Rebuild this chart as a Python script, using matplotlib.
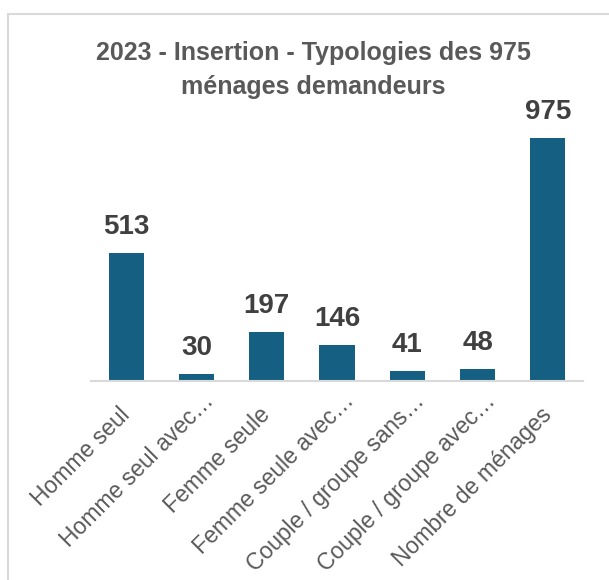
import matplotlib
matplotlib.use("Agg")
import matplotlib.pyplot as plt
import matplotlib.transforms as mtransforms
from matplotlib.patches import Rectangle

categories = ["Homme seul", "Homme seul avec…", "Femme seule", "Femme seule avec…",
              "Couple / groupe sans…", "Couple / groupe avec…", "Nombre de ménages"]
values = [513, 30, 197, 146, 41, 48, 975]
title = "2023 - Insertion - Typologies des 975\nménages demandeurs"

plt.rcParams['font.family'] = ['Liberation Sans', 'DejaVu Sans']

W, H = 609, 580
fig = plt.figure(figsize=(W / 100, H / 100), dpi=100)

# chart border (only top and left visible)
fig.patches.append(Rectangle((8 / W, -0.1), 1.2, 1 - 14 / H + 0.1, transform=fig.transFigure,
                             fill=False, edgecolor="#d9d9d9", linewidth=1.5))

ax = fig.add_axes([91 / W, 1 - 381 / H, (583 - 91) / W, (381 - 100) / H])
x = list(range(len(categories)))
ax.bar(x, values, width=0.5, color="#156082")
ax.set_xlim(-0.5, len(categories) - 0.5)
ax.set_ylim(0, 975 * 281 / 243)

for xi, v in zip(x, values):
    ax.annotate(str(v), (xi, v), xytext=(0, 13), textcoords="offset pixels",
                ha="center", va="bottom", fontsize=20, fontweight="bold", color="#404040")

for s in ["top", "left", "right"]:
    ax.spines[s].set_visible(False)
ax.spines["bottom"].set_color("#d9d9d9")
ax.spines["bottom"].set_linewidth(1.5)
ax.set_yticks([])
ax.set_xticks(x)
ax.set_xticklabels(categories, rotation=45, ha="right", va="center", rotation_mode="anchor",
                   fontsize=16.5, color="#595959")
ax.tick_params(axis="x", length=0, pad=22)

# truncated labels sit slightly further along their direction, as in the reference
for lbl in ax.get_xticklabels():
    if lbl.get_text().endswith("…"):
        off = mtransforms.ScaledTranslation(0.14, 0.14, fig.dpi_scale_trans)
        lbl.set_transform(lbl.get_transform() + off)

fig.text(313 / W, 1 - 70 / H, title, ha="center", va="center", fontsize=18, fontweight="bold",
         color="#595959", linespacing=1.55)

fig.savefig("out.png", dpi=100)
